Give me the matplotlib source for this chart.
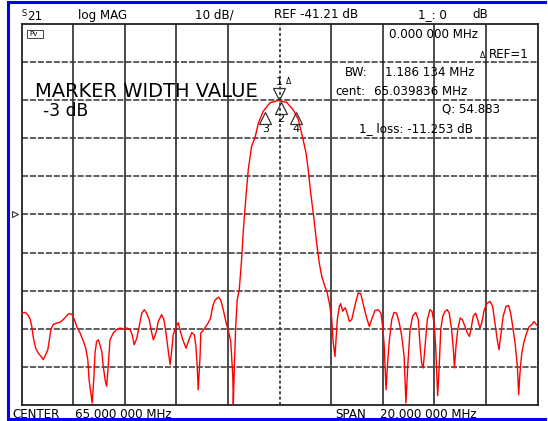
import matplotlib
matplotlib.use("Agg")
import matplotlib.pyplot as plt
import matplotlib.transforms as mtransforms
from matplotlib.lines import Line2D

# ── trace ──────────────────────────────────────────────────────
freq_mhz = [
    55.01, 55.14, 55.24, 55.33, 55.40, 55.46, 55.55, 55.65, 55.76, 55.84,
    55.94, 56.02, 56.07, 56.14, 56.23, 56.36, 56.49, 56.62, 56.75, 56.85,
    56.95, 57.05, 57.14, 57.27, 57.40, 57.49, 57.57, 57.62, 57.69, 57.74,
    57.80, 57.85, 57.91, 57.98, 58.04, 58.11, 58.17, 58.24, 58.30, 58.36,
    58.43, 58.56, 58.69, 58.82, 58.95, 59.08, 59.21, 59.29, 59.37, 59.47,
    59.55, 59.66, 59.76, 59.85, 59.95, 60.05, 60.11, 60.21, 60.30, 60.43,
    60.52, 60.60, 60.69, 60.76, 60.82, 60.88, 60.99, 61.08, 61.14, 61.25,
    61.38, 61.47, 61.60, 61.70, 61.76, 61.81, 61.85, 61.92, 61.95, 62.11,
    62.24, 62.33, 62.41, 62.50, 62.63, 62.72, 62.82, 62.93, 63.02, 63.11,
    63.19, 63.21, 63.25, 63.30, 63.36, 63.44, 63.53, 63.60, 63.70, 63.79,
    63.92, 64.05, 64.18, 64.37, 64.63, 64.95, 65.28, 65.53, 65.73, 65.90,
    66.03, 66.12, 66.21, 66.34, 66.44, 66.54, 66.64, 66.76, 66.85, 66.93,
    67.02, 67.08, 67.15, 67.19, 67.24, 67.32, 67.37, 67.45, 67.54, 67.60,
    67.71, 67.80, 67.93, 68.05, 68.15, 68.25, 68.38, 68.48, 68.57, 68.70,
    68.83, 68.93, 69.00, 69.06, 69.13, 69.19, 69.26, 69.35, 69.44, 69.54,
    69.64, 69.74, 69.83, 69.90, 69.97, 70.06, 70.16, 70.28, 70.38, 70.45,
    70.51, 70.57, 70.64, 70.73, 70.83, 70.91, 70.99, 71.05, 71.13, 71.19,
    71.25, 71.33, 71.42, 71.50, 71.58, 71.67, 71.74, 71.78, 71.84, 71.91,
    72.00, 72.09, 72.19, 72.28, 72.36, 72.42, 72.51, 72.60, 72.68, 72.77,
    72.84, 72.93, 73.03, 73.16, 73.26, 73.35, 73.44, 73.51, 73.57, 73.67,
    73.78, 73.88, 73.96, 74.04, 74.13, 74.22, 74.27, 74.32, 74.39, 74.48,
    74.58, 74.68, 74.77, 74.86, 74.97,
]
s21_db = [
    -67.1, -66.9, -67.5, -68.6, -70.6, -73.6, -76.3, -77.6, -78.5, -79.3,
    -78.0, -76.7, -74.5, -71.4, -70.1, -69.7, -69.5, -68.8, -67.8, -67.2,
    -67.4, -68.8, -70.6, -72.3, -74.5, -76.3, -79.3, -84.6, -88.1, -90.7,
    -84.6, -77.6, -74.5, -74.1, -75.4, -77.1, -81.1, -84.6, -86.3, -81.1,
    -74.1, -72.3, -71.4, -71.0, -71.3, -71.0, -71.4, -72.8, -75.4, -73.6,
    -71.0, -67.1, -66.2, -67.1, -68.8, -72.3, -74.1, -72.3, -69.3, -67.5,
    -68.8, -72.3, -77.1, -80.6, -77.1, -72.8, -70.6, -69.6, -71.4, -74.1,
    -76.3, -74.5, -72.2, -72.8, -75.8, -81.1, -87.2, -78.5, -72.3, -71.0,
    -69.6, -68.4, -65.3, -63.7, -62.9, -63.6, -66.2, -69.6, -71.8, -74.5,
    -83.7, -91.0, -81.1, -71.0, -63.6, -61.0, -53.1, -45.2, -36.5, -29.4,
    -23.3, -21.1, -17.2, -14.1, -11.9, -11.3, -11.8, -13.7, -16.3, -21.1,
    -25.1, -29.9, -35.6, -42.6, -48.7, -53.9, -57.5, -60.1, -61.8, -64.4,
    -68.3, -74.5, -78.5, -74.1, -68.8, -65.3, -64.6, -66.6, -65.7, -66.6,
    -69.3, -68.8, -64.9, -61.8, -62.0, -64.9, -68.4, -70.6, -68.8, -66.4,
    -66.2, -67.1, -70.6, -75.8, -87.2, -80.2, -74.1, -68.8, -66.9, -67.1,
    -69.6, -73.2, -78.5, -90.7, -81.1, -71.4, -67.9, -66.9, -68.8, -75.8,
    -80.2, -81.5, -75.8, -68.8, -66.2, -66.6, -69.6, -75.4, -88.8, -81.1,
    -71.4, -67.9, -66.6, -66.2, -67.1, -71.4, -76.7, -81.5, -75.8, -71.4,
    -68.4, -68.8, -70.6, -72.3, -73.2, -71.4, -67.9, -67.1, -68.8, -71.0,
    -69.6, -66.4, -64.6, -64.0, -65.3, -69.6, -74.1, -76.7, -73.2, -67.9,
    -65.3, -65.1, -67.1, -70.6, -74.9, -81.1, -88.5, -82.8, -77.6, -74.5,
    -72.3, -70.6, -70.2, -69.3, -70.2,
]

# marker readout (markers 1..4)
marker_ids = ["1", "2", "3", "4"]
marker_freq = [64.98, 65.04, 64.447, 65.633]
marker_db = [-11.25, -11.25, -14.25, -14.25]

center_mhz = 65.0
span_mhz = 20.0
ref_db = -41.21
scale_db = 10.0
ref_pos = 5  # divisions from top

W, H = 548, 421
plt.rcParams["font.family"] = ["DejaVu Sans"]

fig = plt.figure(figsize=(W / 100, H / 100), dpi=100)
fig.patch.set_facecolor("white")

# graticule position in pixels
gx0, gx1, gy0, gy1 = 21.5, 537.5, 24, 405
ax = fig.add_axes([gx0 / W, 1 - gy1 / H, (gx1 - gx0) / W, (gy1 - gy0) / H])

f0 = center_mhz - span_mhz / 2
top = ref_db + ref_pos * scale_db
ax.set_xlim(f0, f0 + span_mhz)
ax.set_ylim(top - 10 * scale_db, top)
ax.set_xticks([f0 + i * span_mhz / 10 for i in range(11)])
ax.set_yticks([top - i * scale_db for i in range(11)])
ax.tick_params(length=0, labelbottom=False, labelleft=False)
for s in ax.spines.values():
    s.set_color("#222222")
    s.set_linewidth(1.3)

# grid: verticals solid, horizontals dashed, centre line dotted
for i in range(1, 10):
    xv = f0 + i * span_mhz / 10
    ls = (0, (2, 1.5)) if i == 5 else "-"
    ax.axvline(xv, color="#1a1a1a", lw=1.1, ls=ls, zorder=1)
    ax.axhline(top - i * scale_db, color="#333333", lw=1.1, ls=(0, (4, 1.2)), zorder=1)

ax.plot(freq_mhz, s21_db, color="#ff0000", lw=1.0, zorder=3)

# markers
ms = 9
for mid, mf, md in zip(marker_ids, marker_freq, marker_db):
    if mid == "1":
        tr = mtransforms.offset_copy(ax.transData, fig=fig, x=0, y=ms / 2, units="points")
        ax.plot([mf], [md], marker="v", ms=ms, mfc="none", mec="#333333", mew=0.9,
                transform=tr, zorder=4)
        tt = mtransforms.offset_copy(ax.transData, fig=fig, x=0, y=ms + 4, units="points")
        ax.text(mf, md, "1", transform=tt, fontsize=8, ha="center", va="center")
        ta = mtransforms.offset_copy(ax.transData, fig=fig, x=7, y=ms + 4.5, units="points")
        ax.text(mf, md, "Δ", transform=ta, fontsize=5.5, ha="center", va="center")
    else:
        dy = -ms / 2 - (1 if mid == "2" else 0)
        tr = mtransforms.offset_copy(ax.transData, fig=fig, x=0, y=dy, units="points")
        ax.plot([mf], [md], marker="^", ms=ms, mfc="none", mec="#333333", mew=0.9,
                transform=tr, zorder=4)
        tt = mtransforms.offset_copy(ax.transData, fig=fig, x=0, y=dy - 8, units="points")
        ax.text(mf, md, mid, transform=tt, fontsize=8, ha="center", va="center")

# reference position marker at left
bt = mtransforms.blended_transform_factory(ax.transAxes, ax.transData)
ax.plot([-0.012], [ref_db], marker=">", ms=4, mfc="none", mec="#333333", mew=0.8,
        transform=bt, clip_on=False)

FS = 8.6


def px_text(x, y, s, size=FS, va="center", **kw):
    fig.text(x / W, 1 - y / H, s, fontsize=size, va=va, ha="left", **kw)


# header line
px_text(21, 13, "S", size=6)
px_text(27, 17, "21")
px_text(78, 15, "log MAG")
px_text(195, 15, "10 dB/")
px_text(274, 15, "REF -41.21 dB")
px_text(418, 15, "1_: 0")
px_text(472, 15, "dB")

# readouts inside graticule
px_text(389, 34, "0.000 000 MHz")
px_text(480, 55, "Δ", size=5.5)
px_text(489, 54, "REF=1")
px_text(345, 72, "BW:")
px_text(385, 72, "1.186 134 MHz")
px_text(335, 91.5, "cent:")
px_text(374, 91.5, "65.039836 MHz")
px_text(442, 109, "Q: 54.883")
px_text(359, 129, "1_ loss: -11.253 dB")

px_text(35, 97, "MARKER WIDTH VALUE", size=14, va="baseline")
px_text(43, 116.5, "-3 dB", size=12.3, va="baseline")

# small icon box top-left
fig.patches.append(plt.Rectangle((27 / W, 1 - 38 / H), 16 / W, 8 / H, transform=fig.transFigure,
                                 fill=False, ec="#444444", lw=0.7))
px_text(29, 34, "Pv", size=5)

# footer
px_text(12, 415, "CENTER")
px_text(75, 415, "65.000 000 MHz")
px_text(335, 415, "SPAN")
px_text(380, 415, "20.000 000 MHz")

# blue page frame
frame = dict(color="#0000ff", lw=2.2, transform=fig.transFigure)
fig.lines.append(Line2D([8 / W, 8 / W], [1 - 2 / H, 1 - 419 / H], **frame))
fig.lines.append(Line2D([8 / W, 545 / W], [1 - 2 / H, 1 - 2 / H], **frame))
fig.lines.append(Line2D([8 / W, 545 / W], [1 - 419 / H, 1 - 419 / H], **frame))

fig.savefig("out.png", dpi=100)
